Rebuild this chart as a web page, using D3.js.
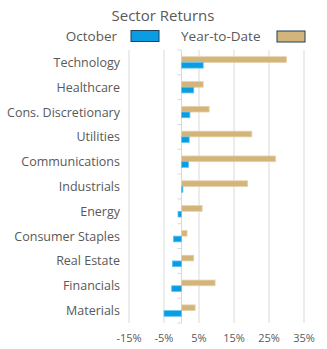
<!doctype html>
<html>
<head>
<meta charset="utf-8">
<script src="https://d3js.org/d3.v7.min.js"></script>
<style>
  body { margin: 0; background: #fff; }
  text { font-family: "Open Sans", "Liberation Sans", sans-serif; fill: #595959; }
</style>
</head>
<body>
<svg width="327" height="349"></svg>
<script>
// data
var sectors = ["Technology", "Healthcare", "Cons. Discretionary", "Utilities", "Communications",
               "Industrials", "Energy", "Consumer Staples", "Real Estate", "Financials", "Materials"];
var october = [6.2, 3.5, 2.4, 2.2, 2.0, 0.4, -1.0, -2.3, -2.6, -2.8, -5.0];
var ytd = [30.0, 6.2, 7.9, 20.1, 26.9, 18.9, 5.9, 1.6, 3.5, 9.6, 3.9];
var xTicks = [-15, -5, 5, 15, 25, 35];
var seriesNames = ["October", "Year-to-Date"];

var svg = d3.select("svg");

var x = d3.scaleLinear().domain([-15, 35]).range([129, 304]);
var y0 = d3.scaleBand().domain(sectors).range([50, 323]).paddingInner(0.54).paddingOuter(0.27);
var y1 = d3.scaleBand().domain(["ytd", "oct"]).range([0, y0.bandwidth()]);
var color = { oct: "#0A9DE3", ytd: "#D3B57B" };
var strokeCol = { oct: "#5EC3F2", ytd: "#E6D2A8" };

// gridlines
svg.append("g").selectAll("line").data(xTicks).enter().append("line")
  .attr("x1", d => x(d)).attr("x2", d => x(d))
  .attr("y1", 50).attr("y2", 323)
  .style("stroke", "#d9d9d9").style("stroke-width", 1);

// tick labels
svg.append("g").selectAll("text").data(xTicks).enter().append("text")
  .attr("x", d => x(d)).attr("y", 342)
  .attr("text-anchor", "middle")
  .style("font-size", "11px")
  .text(d => d + "%");

// zero axis with category ticks
var band = (323 - 50) / sectors.length;
svg.append("line")
  .attr("x1", x(0)).attr("x2", x(0)).attr("y1", 50).attr("y2", 323)
  .style("stroke", "#d9d9d9");
svg.append("g").selectAll("line").data(d3.range(sectors.length + 1)).enter().append("line")
  .attr("x1", x(0) - 4).attr("x2", x(0))
  .attr("y1", i => 50 + i * band).attr("y2", i => 50 + i * band)
  .style("stroke", "#d9d9d9");

// bars
var rows = svg.append("g").selectAll("g").data(sectors).enter().append("g")
  .attr("transform", d => "translate(0," + y0(d) + ")");

rows.append("rect")
  .attr("x", (d, i) => x(Math.min(0, ytd[i])))
  .attr("width", (d, i) => Math.abs(x(ytd[i]) - x(0)))
  .attr("y", y1("ytd")).attr("height", y1.bandwidth())
  .style("fill", color.ytd).style("stroke", strokeCol.ytd).style("stroke-width", 0.75);

rows.append("rect")
  .attr("x", (d, i) => x(Math.min(0, october[i])))
  .attr("width", (d, i) => Math.abs(x(october[i]) - x(0)))
  .attr("y", y1("oct")).attr("height", y1.bandwidth())
  .style("fill", color.oct).style("stroke", strokeCol.oct).style("stroke-width", 0.75);

// category labels
svg.append("g").selectAll("text").data(sectors).enter().append("text")
  .attr("x", 120).attr("y", d => y0(d) + y0.bandwidth() / 2 + 4.5)
  .attr("text-anchor", "end")
  .style("font-size", "12.5px")
  .text(d => d);

// title
svg.append("text")
  .attr("x", 163).attr("y", 21)
  .attr("text-anchor", "middle")
  .style("font-size", "15px")
  .text("Sector Returns");

// legend
svg.append("text").attr("x", 117).attr("y", 41)
  .attr("text-anchor", "end").style("font-size", "13.5px").text(seriesNames[0]);
svg.append("rect").attr("x", 131).attr("y", 30.5).attr("width", 28).attr("height", 11)
  .style("fill", color.oct).style("stroke", "#1F3F5A").style("stroke-width", 1);
svg.append("text").attr("x", 181).attr("y", 41)
  .attr("text-anchor", "start").style("font-size", "13.5px").text(seriesNames[1]);
svg.append("rect").attr("x", 277).attr("y", 31).attr("width", 28).attr("height", 11)
  .style("fill", color.ytd).style("stroke", "#1F3F5A").style("stroke-width", 1);
</script>
</body>
</html>
